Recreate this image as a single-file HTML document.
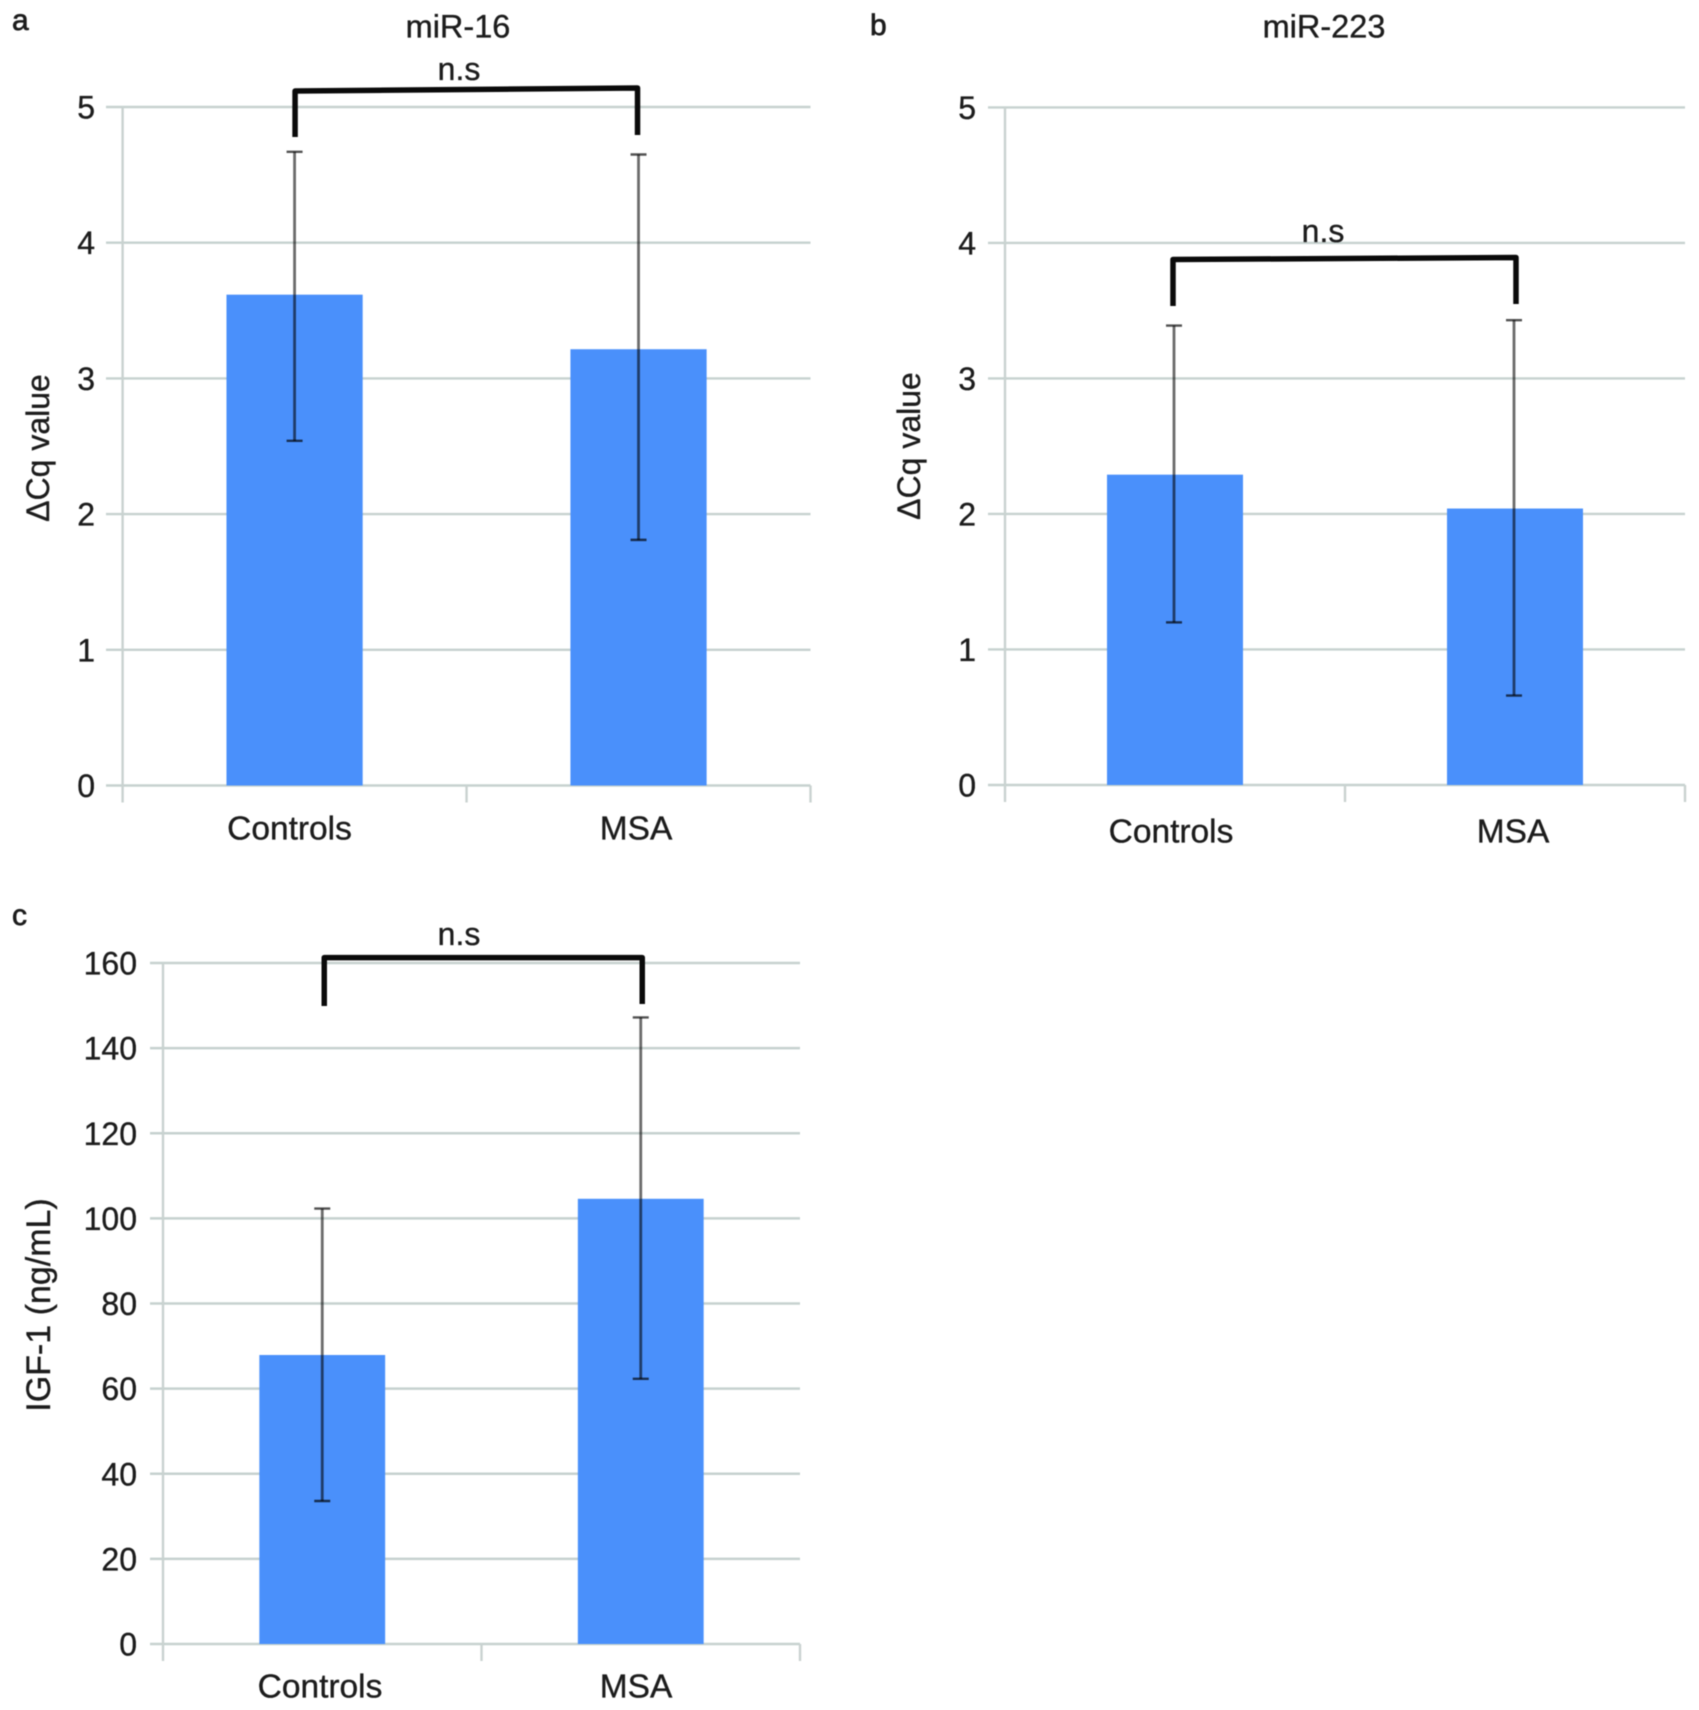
<!DOCTYPE html>
<html lang="en">
<head>
<meta charset="utf-8">
<title>miR-16, miR-223 and IGF-1 bar charts</title>
<style>
html,body{margin:0;padding:0;background:#fff;width:1699px;height:1710px;overflow:hidden}
svg{display:block;filter:blur(.6px)}
text{font-family:"Liberation Sans",sans-serif;fill:#1c1c1c;stroke:#1c1c1c;stroke-width:.35px}
</style>
</head>
<body>
<svg id="figure" xmlns="http://www.w3.org/2000/svg" width="1699" height="1710" viewBox="0 0 1699 1710"></svg>
<script>
const categories = ['Controls', 'MSA'];

const mir16Means = [3.617, 3.215];
const mir16ErrHigh = [4.67, 4.65];
const mir16ErrLow = [2.54, 1.81];
const mir16Ticks = [0, 1, 2, 3, 4, 5];

const mir223Means = [2.29, 2.04];
const mir223ErrHigh = [3.39, 3.43];
const mir223ErrLow = [1.20, 0.66];
const mir223Ticks = [0, 1, 2, 3, 4, 5];

const igf1Means = [67.9, 104.6];
const igf1ErrHigh = [102.3, 147.2];
const igf1ErrLow = [33.6, 62.3];
const igf1Ticks = [0, 20, 40, 60, 80, 100, 120, 140, 160];

const svg = document.getElementById('figure');
const NS = 'http://www.w3.org/2000/svg';

function make(tag, attrs, parent, content) {
  const el = document.createElementNS(NS, tag);
  for (const k in attrs) el.setAttribute(k, attrs[k]);
  if (content !== undefined) el.textContent = content;
  parent.appendChild(el);
  return el;
}

function drawPanel(p, means, errHigh, errLow, ticks) {
  const g = make('g', {}, svg);
  
  

  const yMax = ticks[ticks.length - 1];
  const y = v => p.y0 - (v / yMax) * (p.y0 - p.yTop);
  const band = (p.right - p.left) / categories.length;
  const x = i => p.left + band * (i + 0.5);

  // panel letter
  const letter = make('text', {x: p.letterX, y: p.letterY, 'font-size': 30, style: 'stroke-width:.7px'}, g, p.letter);
  
  

  if (p.title) {
    const title = make('text', {x: p.titleX, y: 37.5, 'font-size': 32.5, 'text-anchor': 'middle'}, g, p.title);
    
    
  }

  // horizontal gridlines and y tick labels
  ticks.forEach(t => {
    const line = make('line', {x1: p.gridStart, x2: p.right, y1: y(t), y2: y(t), stroke: '#c6d1cf', 'stroke-width': 2.4}, g);
    
    
    const label = make('text', {x: p.tickRight, y: y(t) + 11.5, 'font-size': 32, 'text-anchor': 'end'}, g, String(t));
    
    
  });

  // axis lines
  const yAxis = make('line', {x1: p.left, x2: p.left, y1: p.yTop, y2: p.y0 + 17, stroke: '#c9d2d0', 'stroke-width': 2.4}, g);
  
  
  for (let i = 1; i <= categories.length; i++) {
    const tick = make('line', {x1: p.left + band * i, x2: p.left + band * i, y1: p.y0, y2: p.y0 + 17, stroke: '#c9d2d0', 'stroke-width': 2.4}, g);
    
    
  }

  // bars
  means.forEach((m, i) => {
    const w = band * p.barFrac;
    const bar = make('rect', {x: x(i) - w / 2, y: y(m), width: w, height: p.y0 - y(m), fill: '#4a90fb'}, g);
    
    
  });

  // error bars
  means.forEach((m, i) => {
    const cx = x(i) + p.errShift;
    const stem = make('line', {x1: cx, x2: cx, y1: y(errHigh[i]), y2: y(errLow[i]), stroke: '#000', 'stroke-opacity': 0.58, 'stroke-width': 2.8}, g);
    
    
    [errHigh[i], errLow[i]].forEach(v => {
      const cap = make('line', {x1: cx - 8, x2: cx + 8, y1: y(v), y2: y(v), stroke: '#000', 'stroke-opacity': 0.68, 'stroke-width': 2.4}, g);
      
      
    });
  });

  // significance bracket
  const bx0 = x(0) + p.brShift[0], bx1 = x(1) + p.brShift[1];
  const br = p.bracket;
  const bracket = make('path', {
    d: 'M' + bx0 + ' ' + br[0] + 'L' + bx0 + ' ' + br[1] + 'L' + bx1 + ' ' + br[2] + 'L' + bx1 + ' ' + br[3],
    fill: 'none', stroke: '#0a0a0a', 'stroke-width': 5.5, 'stroke-linejoin': 'round'
  }, g);
  
  
  const ns = make('text', {x: p.nsX, y: p.nsY, 'font-size': 32, 'text-anchor': 'middle'}, g, 'n.s');
  
  

  // category labels
  categories.forEach((c, i) => {
    const label = make('text', {x: p.catX[i], y: p.catY, 'font-size': 33.5, 'text-anchor': 'middle'}, g, c);
    
    
  });

  // y-axis title
  const yTitle = make('text', {
    transform: 'translate(' + p.yTitleX + ' ' + p.yTitleY + ') rotate(-90)',
    'font-size': p.yTitleSize, 'text-anchor': 'middle'
  }, g, p.yTitle);
  
  
}

drawPanel({
  id: 'mir-16', letter: 'a', letterX: 12, letterY: 30, title: 'miR-16', titleX: 458,
  left: 122.6, right: 810.5, gridStart: 106, y0: 785.5, yTop: 107, tickRight: 95, barFrac: 0.396, errShift: 0,
  bracket: [137, 91, 88, 135], brShift: [0.5, -1], nsX: 459, nsY: 80,
  catX: [289.5, 636], catY: 839.5, yTitle: '\u0394Cq value', yTitleX: 49, yTitleY: 448, yTitleSize: 32
}, mir16Means, mir16ErrHigh, mir16ErrLow, mir16Ticks);

drawPanel({
  id: 'mir-223', letter: 'b', letterX: 870, letterY: 35, title: 'miR-223', titleX: 1324,
  left: 1005, right: 1685, gridStart: 988, y0: 785, yTop: 107.4, tickRight: 976, barFrac: 0.4, errShift: -1,
  bracket: [306, 259.5, 257.5, 304], brShift: [-2, 1], nsX: 1323, nsY: 242,
  catX: [1171, 1513], catY: 842.5, yTitle: '\u0394Cq value', yTitleX: 920, yTitleY: 446, yTitleSize: 32
}, mir223Means, mir223ErrHigh, mir223ErrLow, mir223Ticks);

drawPanel({
  id: 'igf-1', letter: 'c', letterX: 12, letterY: 925, title: null, titleX: 0,
  left: 163, right: 800, gridStart: 150, y0: 1644, yTop: 963, tickRight: 137, barFrac: 0.395, errShift: 0,
  bracket: [1006, 957.6, 957.6, 1004], brShift: [2, 1.5], nsX: 459, nsY: 945,
  catX: [320, 636], catY: 1697.6, yTitle: 'IGF-1 (ng/mL)', yTitleX: 50, yTitleY: 1305, yTitleSize: 34
}, igf1Means, igf1ErrHigh, igf1ErrLow, igf1Ticks);
</script>
</body>
</html>
